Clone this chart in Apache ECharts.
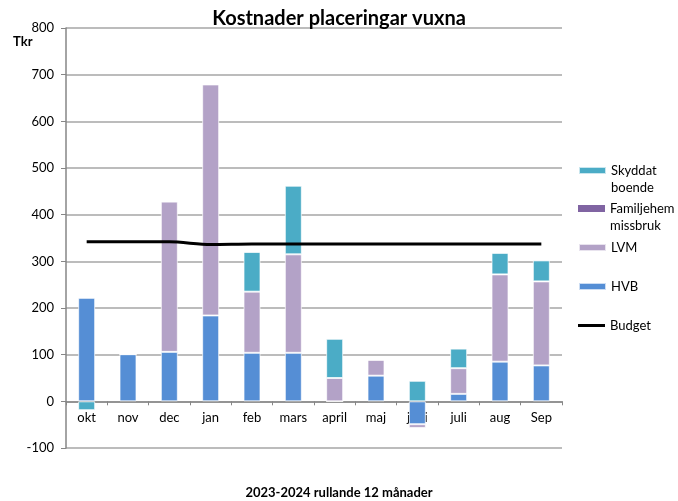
<!DOCTYPE html>
<html>
<head>
<meta charset="utf-8">
<script src="https://cdn.jsdelivr.net/npm/echarts@6/dist/echarts.min.js"></script>
<style>
  html, body { margin: 0; padding: 0; background: #fff; }
  #chart { width: 678px; height: 501px; }
</style>
</head>
<body>
<div id="chart"></div>
<script>
  // månader (rullande 12)
  var months = ['okt', 'nov', 'dec', 'jan', 'feb', 'mars', 'april', 'maj', 'juni', 'juli', 'aug', 'Sep'];
  // kostnader i Tkr
  var hvb = [222, 101, 106, 184, 104, 104, 0, 55, -49, 16, 85, 77];
  var lvm = [0, 0, 322, 495, 131, 211, 50, 34, -8, 55, 187, 180];
  var familjehem = [0, 0, 0, 0, 0, 0, 0, 0, 0, 0, 0, 0];
  var skyddat = [-19, 0, 0, 0, 85, 147, 84, 0, 44, 42, 46, 45];
  var budget = [342, 342, 342, 336, 337, 337, 337, 337, 337, 337, 337, 337];

  var colors = {
    hvb: '#558ED5',
    lvm: '#B3A2C7',
    familjehem: '#8064A2',
    skyddat: '#4BACC6',
    budget: '#000000'
  };
  var font = 'Lato, "Liberation Sans", sans-serif';

  var myChart = echarts.init(document.getElementById('chart'));

  // en legend per rad så att positionerna blir som i originalet
  function legendItem(name, top, icon) {
    return {
      data: [{ name: name, icon: icon || 'rect' }],
      orient: 'vertical',
      left: 573,
      top: top,
      itemWidth: 27,
      itemHeight: icon ? 12 : 7,
      itemGap: 0,
      selectedMode: false,
      textStyle: { fontFamily: font, fontSize: 13, color: '#000', lineHeight: 17 }
    };
  }
  // två rader: tom rad överst så att ikonen hamnar vid första raden
  function legendItem2(name, top) {
    var l = legendItem(name, top);
    l.formatter = function (n) { return ' \n' + n; };
    return l;
  }

  var barStyle = function (c) {
    return { color: c, borderColor: 'rgba(255,255,255,0.7)', borderWidth: 1 };
  };

  var option = {
    animation: false,
    title: [
      {
        text: 'Kostnader placeringar vuxna',
        left: 'center',
        top: 4,
        textStyle: { fontFamily: font, fontSize: 20, fontWeight: 'bold', color: '#000' }
      },
      {
        text: '2023-2024 rullande 12 månader',
        left: 'center',
        top: 481,
        textStyle: { fontFamily: font, fontSize: 13, fontWeight: 'bold', color: '#000' }
      },
      {
        text: 'Tkr',
        left: 8,
        top: 30,
        textStyle: { fontFamily: font, fontSize: 13, fontWeight: 'bold', color: '#000' }
      }
    ],
    legend: [
      legendItem2('Skyddat\nboende', 140),
      legendItem2('Familjehem\nmissbruk', 178),
      legendItem('LVM', 234),
      legendItem('HVB', 273),
      legendItem('Budget', 312, 'path://M0,5 L27,5 L27,8 L0,8 Z')
    ],
    grid: {
      left: 66,
      right: 116,
      top: 28,
      bottom: 53
    },
    xAxis: {
      type: 'category',
      data: months,
      offset: -46.7,
      axisLine: { onZero: false, lineStyle: { color: '#868686', width: 1.5 } },
      axisTick: { show: true, length: 4, lineStyle: { color: '#868686' } },
      axisLabel: { fontFamily: font, fontSize: 13, color: '#000', margin: 10 }
    },
    yAxis: {
      type: 'value',
      min: -100,
      max: 800,
      interval: 100,
      axisLine: { show: true, lineStyle: { color: '#868686', width: 1.5 } },
      axisTick: { show: true, length: 5, lineStyle: { color: '#868686' } },
      axisLabel: { fontFamily: font, fontSize: 13, color: '#000', margin: 12 },
      splitLine: { lineStyle: { color: '#A6A6A6', width: 1.5 } }
    },
    series: [
      {
        name: 'HVB',
        type: 'bar',
        stack: 'kost',
        barWidth: 17,
        itemStyle: barStyle(colors.hvb),
        data: hvb
      },
      {
        name: 'LVM',
        type: 'bar',
        stack: 'kost',
        itemStyle: barStyle(colors.lvm),
        data: lvm
      },
      {
        name: 'Familjehem\nmissbruk',
        type: 'bar',
        stack: 'kost',
        itemStyle: { color: colors.familjehem },
        data: familjehem
      },
      {
        name: 'Skyddat\nboende',
        type: 'bar',
        stack: 'kost',
        itemStyle: barStyle(colors.skyddat),
        data: skyddat
      },
      {
        name: 'Budget',
        type: 'line',
        smooth: 0.3,
        showSymbol: false,
        symbol: 'none',
        z: 5,
        lineStyle: { color: colors.budget, width: 3 },
        itemStyle: { color: colors.budget },
        data: budget
      }
    ]
  };

  myChart.setOption(option);
</script>
</body>
</html>
